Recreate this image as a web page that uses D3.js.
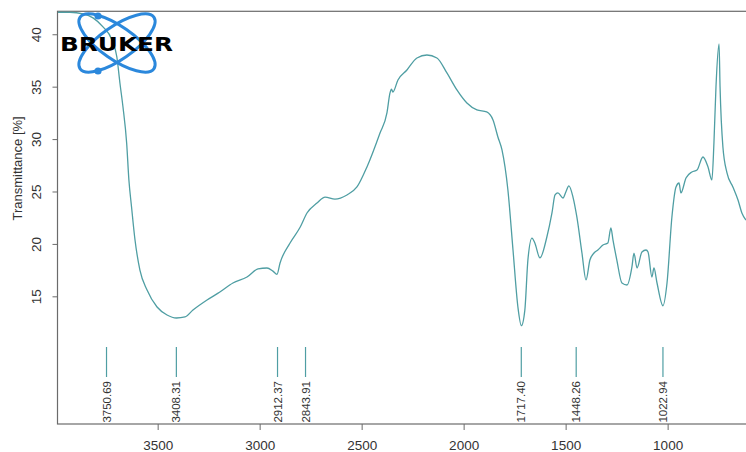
<!DOCTYPE html>
<html>
<head>
<meta charset="utf-8">
<script src="https://cdn.jsdelivr.net/npm/d3@7"></script>
<style>
  html, body { margin: 0; padding: 0; background: #fff; }
  svg { display: block; }
  text { font-family: "Liberation Sans", Arial, sans-serif; }
</style>
</head>
<body>
<svg id="chart" width="746" height="452"></svg>
<script>
// IR spectrum: wavenumber (cm-1) and transmittance (%)
const wavenumbers = [
  3989, 3930, 3866, 3817, 3768, 3724, 3700, 3685, 3670, 3652, 3641, 3628, 3611, 3587, 3552,
  3503, 3454, 3408, 3366, 3327, 3258, 3195, 3131, 3062, 3008, 2964, 2935, 2915, 2900, 2851,
  2801, 2768, 2719, 2679, 2631, 2572, 2523, 2474, 2410, 2376, 2361, 2354, 2347, 2322, 2278,
  2229, 2180, 2131, 2082, 2033, 1984, 1935, 1887, 1856, 1832, 1812, 1783, 1758, 1734, 1717,
  1700, 1685, 1665, 1651, 1626, 1592, 1567, 1552, 1538, 1513, 1499, 1484, 1464, 1445, 1420,
  1400, 1381, 1361, 1342, 1317, 1293, 1278, 1268, 1249, 1224, 1199, 1175, 1165, 1150, 1126,
  1106, 1096, 1077, 1067, 1052, 1023, 1003, 979, 959, 944, 935, 910, 881, 856, 827,
  802, 783, 773, 763, 748, 743, 729, 709, 680, 655, 636, 616
];
const transmittance = [
  42.10, 42.10, 41.94, 41.56, 40.70, 39.46, 37.83, 35.35, 33.06, 29.63, 26.10, 23.52, 20.37, 17.51, 15.60,
  13.98, 13.22, 12.93, 13.03, 13.69, 14.65, 15.41, 16.27, 16.84, 17.61, 17.70, 17.40, 17.10, 18.18, 20.09,
  21.61, 22.95, 23.90, 24.47, 24.28, 24.67, 25.43, 27.34, 30.58, 32.49, 34.40, 34.77, 34.49, 35.64, 36.59,
  37.74, 38.02, 37.74, 36.31, 34.69, 33.44, 32.78, 32.59, 31.82, 30.20, 28.96, 25.14, 19.42, 13.98, 12.20,
  13.69, 18.46, 20.56, 20.09, 18.66, 20.66, 22.95, 24.67, 24.86, 24.38, 24.95, 25.53, 24.47, 22.57, 19.13,
  16.56, 18.46, 19.13, 19.42, 19.89, 20.09, 21.52, 20.38, 18.46, 16.27, 16.08, 17.80, 19.13, 17.70, 19.23,
  19.42, 19.23, 16.84, 17.70, 16.27, 14.10, 16.27, 22.57, 25.43, 25.81, 24.86, 26.29, 26.86, 27.05, 28.29,
  27.34, 26.10, 29.63, 34.97, 39.07, 34.97, 29.25, 26.77, 25.43, 24.19, 22.95, 22.28
];

// Annotated band positions
const peakLabels = ["3750.69", "3408.31", "2912.37", "2843.91", "1717.40", "1448.26", "1022.94"];

const xTicks = [3500, 3000, 2500, 2000, 1500, 1000];
const yTicks = [15, 20, 25, 30, 35, 40];
const yTitle = "Transmittance [%]";

const svg = d3.select("#chart");
const plot = { left: 57.5, right: 748, top: 11.3, bottom: 424 };

const x = d3.scaleLinear().domain([3991, 606]).range([plot.left, plot.right]);
const y = d3.scaleLinear().domain([2.82, 42.19]).range([plot.bottom, plot.top]);

const frameColor = "#6b6b6b";
const lineColor = "#4f9ea3";

svg.append("defs").append("clipPath").attr("id", "plotClip")
  .append("rect")
  .attr("x", plot.left).attr("y", plot.top)
  .attr("width", plot.right - plot.left).attr("height", plot.bottom - plot.top);

// Frame
svg.append("rect")
  .attr("x", plot.left).attr("y", plot.top)
  .attr("width", plot.right - plot.left).attr("height", plot.bottom - plot.top)
  .attr("fill", "none").attr("stroke", frameColor).attr("stroke-width", 1.2);

// X axis
const xAxis = svg.append("g")
  .attr("transform", `translate(0,${plot.bottom})`)
  .call(d3.axisBottom(x).tickValues(xTicks).tickSize(6).tickPadding(10).tickFormat(d3.format("d")));
xAxis.select(".domain").remove();
xAxis.selectAll(".tick line").attr("stroke", frameColor);
xAxis.selectAll(".tick text")
  .attr("fill", "#333").attr("font-size", 13.5)
  .style("font-family", "'Liberation Sans', Arial, sans-serif");

// Y axis with rotated labels
const yAxis = svg.append("g")
  .attr("transform", `translate(${plot.left},0)`)
  .call(d3.axisLeft(y).tickValues(yTicks).tickSize(5).tickFormat(d3.format("d")));
yAxis.select(".domain").remove();
yAxis.selectAll(".tick line").attr("stroke", frameColor);
yAxis.selectAll(".tick text")
  .attr("x", null)
  .attr("text-anchor", "middle")
  .attr("transform", "translate(-21,0) rotate(-90)")
  .attr("dy", "0.35em")
  .attr("fill", "#333").attr("font-size", 13.5)
  .style("font-family", "'Liberation Sans', Arial, sans-serif");

svg.append("text")
  .attr("transform", `translate(17,${y(27.2)}) rotate(-90)`)
  .attr("text-anchor", "middle")
  .attr("dy", "0.35em")
  .attr("fill", "#333").attr("font-size", 13)
  .text(yTitle);

// Spectrum
const line = d3.line()
  .x((d, i) => x(wavenumbers[i]))
  .y(d => y(d))
  .curve(d3.curveMonotoneX);

svg.append("path")
  .datum(transmittance)
  .attr("clip-path", "url(#plotClip)")
  .attr("fill", "none")
  .attr("stroke", lineColor)
  .attr("stroke-width", 1.3)
  .attr("stroke-linejoin", "round")
  .attr("d", line);

// Peak markers, spread apart where neighbours would collide
const minGap = 28;
const peakPos = [];
peakLabels.map(s => ({ label: s, px: x(+s) }))
  .sort((a, b) => a.px - b.px)
  .forEach((p, i, arr) => {
    if (i > 0 && p.px - arr[i - 1].px < minGap) p.px = arr[i - 1].px + minGap;
    peakPos.push(p);
  });

const peaks = svg.append("g");
peaks.selectAll("line").data(peakPos).join("line")
  .attr("x1", d => d.px).attr("x2", d => d.px)
  .attr("y1", 347).attr("y2", 377)
  .attr("stroke", lineColor).attr("stroke-width", 1.2);
peaks.selectAll("text").data(peakPos).join("text")
  .attr("transform", d => `translate(${d.px},381) rotate(-90)`)
  .attr("text-anchor", "end")
  .attr("dy", "0.35em")
  .attr("fill", "#333").attr("font-size", 11.5)
  .text(d => d.label);

// Bruker logo
const logo = svg.append("g").attr("transform", "translate(117,43)");
[35, -35].forEach(a => {
  logo.append("ellipse")
    .attr("rx", 45).attr("ry", 16.5)
    .attr("transform", `rotate(${a})`)
    .attr("fill", "none").attr("stroke", "#2b88dc").attr("stroke-width", 3);
});
logo.append("circle").attr("cx", -19).attr("cy", -27).attr("r", 3.6).attr("fill", "#2b88dc");
logo.append("circle").attr("cx", -19).attr("cy", 28).attr("r", 3.6).attr("fill", "#2b88dc");
logo.append("text")
  .attr("x", -57).attr("y", 8)
  .attr("textLength", 113).attr("lengthAdjust", "spacingAndGlyphs")
  .attr("font-size", 19).attr("font-weight", "bold")
  .style("font-family", "'DejaVu Sans', sans-serif")
  .attr("fill", "#000")
  .text("BRUKER");
</script>
</body>
</html>
